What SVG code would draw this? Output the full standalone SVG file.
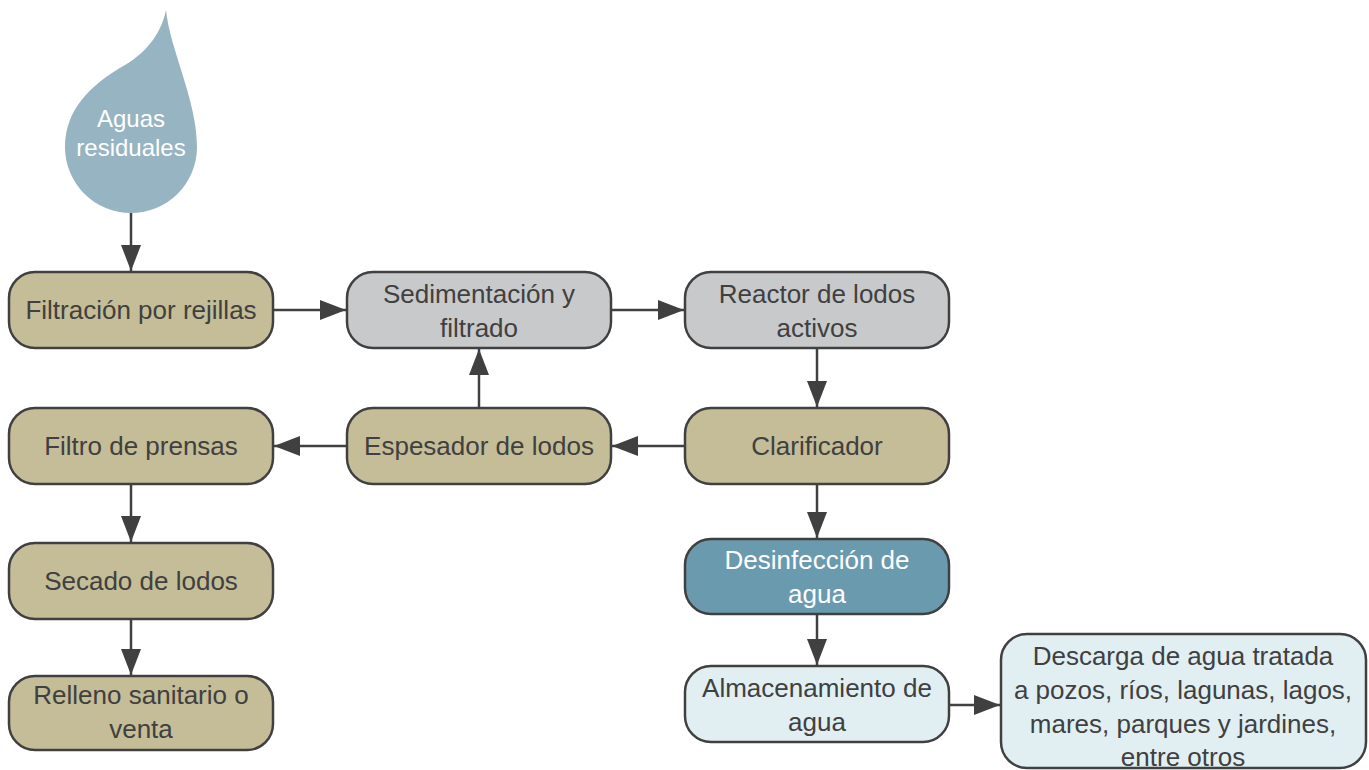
<svg xmlns="http://www.w3.org/2000/svg" width="1369" height="770" viewBox="0 0 1369 770">
<style>
.box{stroke:#404040;stroke-width:2.5}
.tan{fill:#c4bd97}
.gray{fill:#c8c9cb}
.blue{fill:#6a9aae}
.light{fill:#e1eff3}
text{font-family:"Liberation Sans",Arial,sans-serif;font-size:26px;fill:#404040;text-anchor:middle}
.w{fill:#ffffff}
text.dt{font-size:24px;fill:#ffffff}
</style>
<defs>
<marker id="arrow" viewBox="0 0 26 20" refX="26" refY="10" markerWidth="26" markerHeight="20" markerUnits="userSpaceOnUse" orient="auto">
<path d="M0,0 L26,10 L0,20 Z" fill="#404040"/>
</marker>
</defs>
<rect width="1369" height="770" fill="#ffffff"/>
<g id="drop">
<path d="M166,10 C170,50 197,100 197,147 A66,66 0 0 1 65,147 C65,110 90,85 125,65 C150,50 162,30 166,10 Z" fill="#97b4c2"/>
<text class="dt" x="131" y="127">Aguas</text>
<text class="dt" x="131" y="156">residuales</text>
</g>
<g id="filtracion"><rect class="box tan" x="9" y="272" width="264" height="76" rx="26"/><text x="141" y="319">Filtración por rejillas</text></g>
<g id="sedimentacion"><rect class="box gray" x="347" y="272" width="264" height="76" rx="26"/><text x="479" y="303">Sedimentación y</text><text x="479" y="337">filtrado</text></g>
<g id="reactor"><rect class="box gray" x="685" y="272" width="264" height="76" rx="26"/><text x="817" y="303">Reactor de lodos</text><text x="817" y="337">activos</text></g>
<g id="filtro"><rect class="box tan" x="9" y="408" width="264" height="76" rx="26"/><text x="141" y="455">Filtro de prensas</text></g>
<g id="espesador"><rect class="box tan" x="347" y="408" width="264" height="76" rx="26"/><text x="479" y="455">Espesador de lodos</text></g>
<g id="clarificador"><rect class="box tan" x="685" y="408" width="264" height="76" rx="26"/><text x="817" y="455">Clarificador</text></g>
<g id="secado"><rect class="box tan" x="9" y="543" width="264" height="76" rx="26"/><text x="141" y="590">Secado de lodos</text></g>
<g id="relleno"><rect class="box tan" x="9" y="676" width="264" height="74" rx="26"/><text x="141" y="704">Relleno sanitario o</text><text x="141" y="738">venta</text></g>
<g id="desinfeccion"><rect class="box blue" x="685" y="539" width="264" height="75" rx="26"/><text class="w" x="817" y="569">Desinfección de</text><text class="w" x="817" y="603">agua</text></g>
<g id="almacenamiento"><rect class="box light" x="685" y="666" width="264" height="76" rx="26"/><text x="817" y="697">Almacenamiento de</text><text x="817" y="731">agua</text></g>
<g id="descarga"><rect class="box light" x="1001" y="634" width="365" height="134" rx="26"/><text x="1183" y="665">Descarga de agua tratada</text><text x="1183" y="699">a pozos, ríos, lagunas, lagos,</text><text x="1183" y="733">mares, parques y jardines,</text><text x="1183" y="766">entre otros</text></g>
<g id="connectors" stroke="#404040" stroke-width="2.5" marker-end="url(#arrow)">
<line x1="131" y1="213" x2="131" y2="271"/>
<line x1="273" y1="310" x2="346" y2="310"/>
<line x1="611" y1="310" x2="684" y2="310"/>
<line x1="817" y1="348" x2="817" y2="407"/>
<line x1="685" y1="446" x2="612" y2="446"/>
<line x1="347" y1="446" x2="274" y2="446"/>
<line x1="479" y1="408" x2="479" y2="349"/>
<line x1="131" y1="484" x2="131" y2="542"/>
<line x1="131" y1="619" x2="131" y2="675"/>
<line x1="817" y1="484" x2="817" y2="538"/>
<line x1="817" y1="614" x2="817" y2="665"/>
<line x1="949" y1="705" x2="1000" y2="705"/>
</g>
</svg>
